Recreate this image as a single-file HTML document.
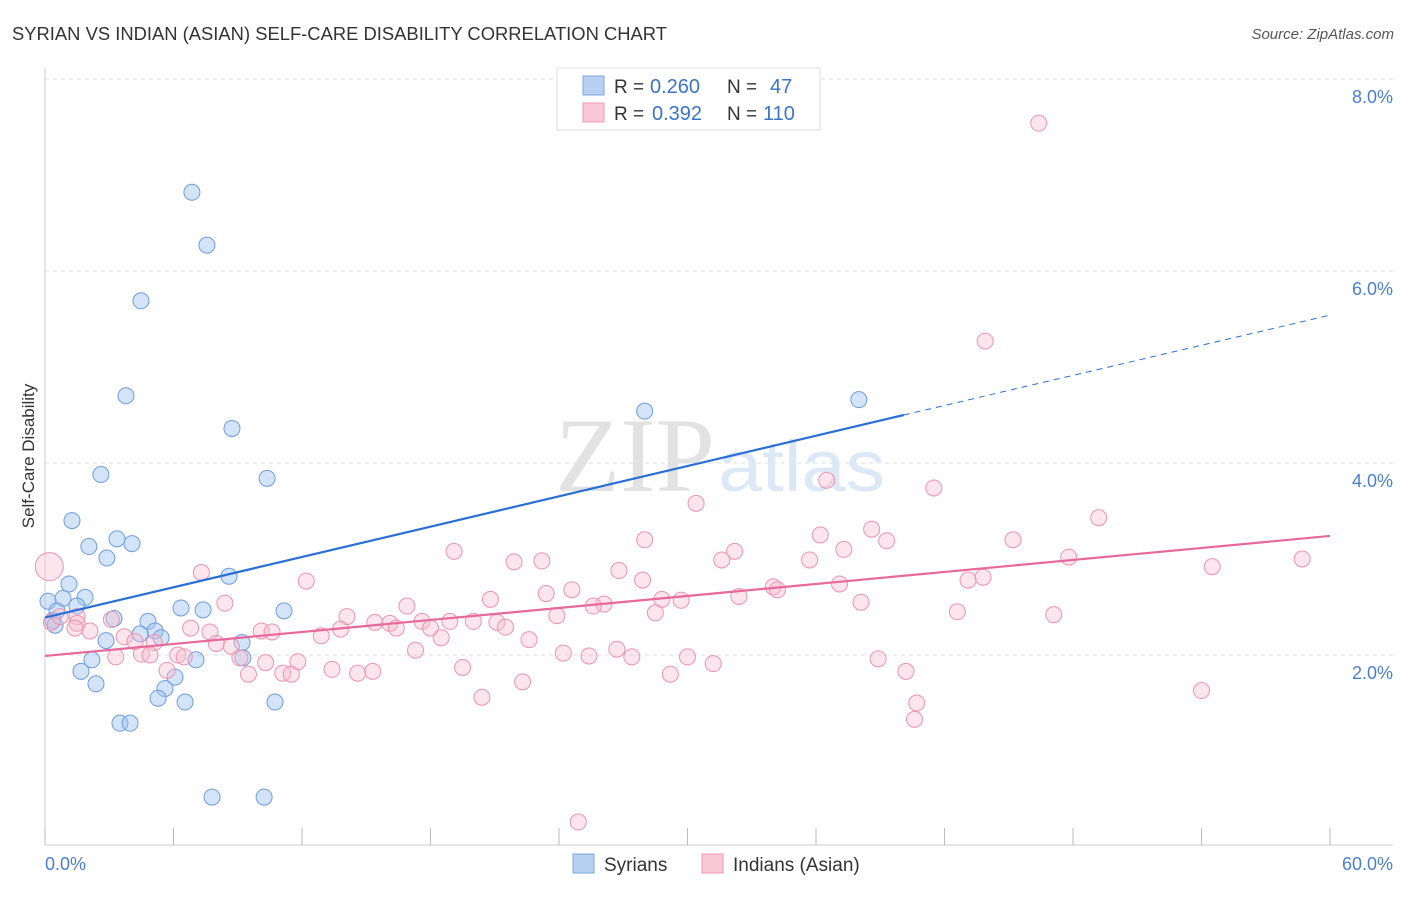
<!DOCTYPE html>
<html><head><meta charset="utf-8"><style>
body{margin:0;background:#fff;font-family:"Liberation Sans",sans-serif;}
svg text{font-family:"Liberation Sans",sans-serif;}
</style></head><body>
<svg id="chart" width="1406" height="892" xmlns="http://www.w3.org/2000/svg">
<text x="12" y="40" font-size="18" fill="#333" textLength="655" lengthAdjust="spacingAndGlyphs">SYRIAN VS INDIAN (ASIAN) SELF-CARE DISABILITY CORRELATION CHART</text>
<text x="1394" y="39" font-size="15" fill="#555" font-style="italic" text-anchor="end">Source: ZipAtlas.com</text>
<g id="grid"></g>
<text x="555" y="491" font-size="106" fill="#e2e2e2" textLength="160" lengthAdjust="spacingAndGlyphs" style="font-family:'Liberation Serif',serif">ZIP</text>
<text x="718" y="491" font-size="72" fill="#dce8f6" textLength="167" lengthAdjust="spacingAndGlyphs">atlas</text>
<g id="marks"></g>
<text transform="translate(34,456) rotate(-90)" font-size="17" fill="#333" text-anchor="middle">Self-Care Disability</text>
<text x="45" y="870" font-size="18" fill="#4a7fd0">0.0%</text>
<text x="1393" y="870" font-size="18" fill="#4a7fd0" text-anchor="end">60.0%</text>
<g>
<rect x="557" y="68" width="263" height="62" fill="#fff" stroke="#ddd"/>
<rect x="583" y="76" width="21" height="19" fill="#b8d0f2" stroke="#7ea6e0"/>
<rect x="583" y="103" width="21" height="19" fill="#f9c8d6" stroke="#ee9ab4"/>
<text x="614" y="93" font-size="19" fill="#333">R =</text>
<text x="650" y="93" font-size="20" fill="#3b73c9">0.260</text>
<text x="727" y="93" font-size="19" fill="#333">N =</text>
<text x="770" y="93" font-size="20" fill="#3b73c9">47</text>
<text x="614" y="120" font-size="19" fill="#333">R =</text>
<text x="652" y="120" font-size="20" fill="#3b73c9">0.392</text>
<text x="727" y="120" font-size="19" fill="#333">N =</text>
<text x="763" y="120" font-size="20" fill="#3b73c9">110</text>
</g>
<g>
<rect x="573" y="854" width="21" height="19" fill="#b8d0f2" stroke="#7ea6e0"/>
<text x="604" y="871" font-size="19" fill="#333">Syrians</text>
<rect x="702" y="854" width="21" height="19" fill="#f9c8d6" stroke="#ee9ab4"/>
<text x="733" y="871" font-size="19" fill="#333">Indians (Asian)</text>
</g>
</svg>
<script>
const yTicks=[2,4,6,8];
const xTicks=[0,6,12,18,24,30,36,42,48,54,60];
const syrX=[6.86,7.56,4.48,3.78,8.73,28.0,38.0,2.61,10.37,1.26,3.36,4.06,2.05,2.89,8.59,1.12,1.87,0.84,0.14,1.49,0.56,3.22,4.81,0.37,6.35,7.38,11.16,5.14,4.44,5.42,2.85,9.20,2.19,7.05,9.24,1.68,6.07,2.38,5.60,5.28,6.54,10.74,3.50,3.97,7.80,10.23,0.47];
const syrY=[6.82,6.27,5.69,4.70,4.36,4.54,4.66,3.88,3.84,3.40,3.21,3.16,3.13,3.01,2.82,2.74,2.60,2.59,2.56,2.51,2.46,2.38,2.35,2.36,2.49,2.47,2.46,2.25,2.22,2.18,2.15,2.13,1.95,1.95,1.97,1.83,1.77,1.70,1.65,1.55,1.51,1.51,1.29,1.29,0.52,0.52,2.31];
const indX=[46.4,43.9,36.5,41.5,30.4,49.2,38.6,36.2,39.3,28.0,19.1,32.2,37.3,45.2,31.6,47.8,58.7,21.9,23.2,35.7,54.5,7.3,12.2,26.8,27.9,43.8,43.1,37.1,34.0,34.2,24.6,23.4,32.4,20.8,28.8,29.7,26.1,25.6,16.9,38.1,8.4,23.9,28.5,14.1,42.6,47.1,15.4,16.1,17.6,18.9,20.0,21.1,21.5,3.1,13.8,16.4,18.0,1.5,1.5,2.1,1.4,6.8,10.1,7.7,12.9,22.6,18.5,3.7,4.2,8.0,5.1,8.7,10.6,17.3,0.3,0.7,3.3,4.5,4.9,6.2,6.5,24.2,25.4,26.7,27.4,30.0,31.2,38.9,10.3,11.8,9.1,13.4,15.3,14.6,9.5,11.1,11.5,19.5,29.2,40.2,5.7,22.3,20.4,40.7,40.6,54.0,24.9,0.2];
const indY=[7.54,5.27,3.82,3.74,3.58,3.43,3.31,3.25,3.19,3.20,3.08,3.08,3.10,3.20,2.99,3.02,3.00,2.97,2.98,2.99,2.92,2.86,2.77,2.88,2.78,2.81,2.78,2.74,2.71,2.68,2.68,2.64,2.61,2.58,2.58,2.57,2.53,2.51,2.51,2.55,2.54,2.41,2.44,2.40,2.45,2.42,2.34,2.33,2.35,2.35,2.35,2.34,2.29,2.37,2.27,2.28,2.28,2.40,2.33,2.25,2.28,2.28,2.25,2.24,2.20,2.16,2.18,2.19,2.14,2.12,2.13,2.09,2.24,2.05,2.34,2.40,1.98,2.01,2.00,2.00,1.98,2.02,1.99,2.06,1.98,1.98,1.91,1.96,1.92,1.93,1.97,1.85,1.83,1.81,1.80,1.81,1.80,1.87,1.80,1.83,1.84,1.72,1.56,1.50,1.33,1.63,0.26,2.92];
const blueLine=[0.2,2.4,40.1,4.5,60,5.54];
const pinkLine=[0,1.99,60,3.24];
const X=v=>45+v/60*1285, Y=v=>847-v*96;
const NS="http://www.w3.org/2000/svg";
function mk(p,t,a){const e=document.createElementNS(NS,t);for(const k in a)e.setAttribute(k,a[k]);p.appendChild(e);return e;}
const grid=document.getElementById('grid'),marks=document.getElementById('marks');
yTicks.forEach(t=>{
 const l=mk(grid,'line',{x1:45,x2:1393,y1:Y(t),y2:Y(t),stroke:'#ddd','stroke-dasharray':'4,4'});
 
 
 const tx=mk(grid,'text',{x:1393,y:Y(t)+24,'font-size':18,fill:'#4a7fd0','text-anchor':'end'});
 tx.textContent=t.toFixed(1)+'%';
 
 
});
mk(grid,'line',{x1:45,x2:1393,y1:845,y2:845,stroke:'#ccc'});
mk(grid,'line',{x1:45,x2:45,y1:68,y2:845,stroke:'#ccc'});
xTicks.forEach(t=>{const l=mk(grid,'line',{x1:X(t),x2:X(t),y1:828,y2:845,stroke:'#bbb'});
 
 });
syrX.forEach((v,i)=>{const c=mk(marks,'circle',{cx:X(v),cy:Y(syrY[i]),r:8,fill:'rgba(160,195,240,0.45)',stroke:'#6d9be0','stroke-width':1});
 
 });
indX.forEach((v,i)=>{const c=mk(marks,'circle',{cx:X(v),cy:Y(indY[i]),r:i==indX.length-1?14:8,fill:'rgba(248,190,208,0.4)',stroke:'#ec93b0','stroke-width':1});
 
 });
const bl=(x)=>blueLine[1]+(x-blueLine[0])*(blueLine[3]-blueLine[1])/(blueLine[2]-blueLine[0]);
const b1=mk(marks,'line',{x1:X(0),y1:Y(bl(0)),x2:X(blueLine[2]),y2:Y(blueLine[3]),stroke:'#2a6fd6','stroke-width':2.2});


const b2=mk(marks,'line',{x1:X(blueLine[2]),y1:Y(blueLine[3]),x2:X(blueLine[4]),y2:Y(blueLine[5]),stroke:'#2a6fd6','stroke-width':1,'stroke-dasharray':'6,5'});


const p1=mk(marks,'line',{x1:X(pinkLine[0]),y1:Y(pinkLine[1]),x2:X(pinkLine[2]),y2:Y(pinkLine[3]),stroke:'#e8689a','stroke-width':2.2});


</script>
</body></html>
